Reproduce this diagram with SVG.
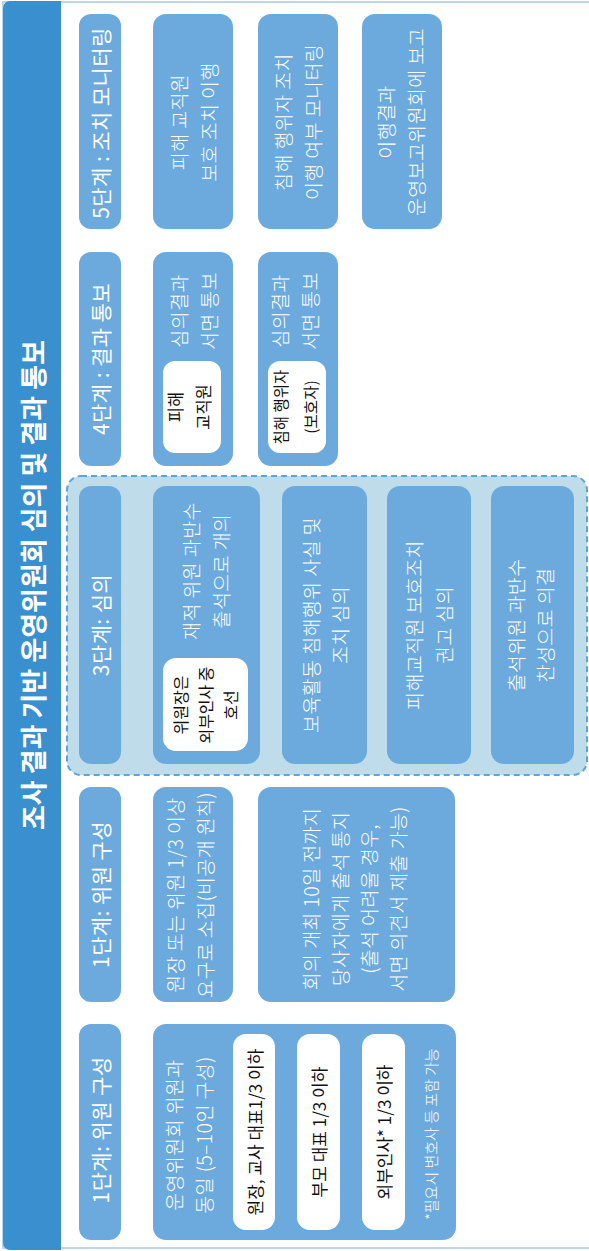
<svg xmlns="http://www.w3.org/2000/svg" width="589" height="1251" viewBox="0 0 589 1251">
<style>
text{font-family:"Noto Sans CJK KR","Noto Sans",sans-serif;text-anchor:middle;dominant-baseline:central}
.box{fill:#6CAADD}
.pill{fill:#FFFFFF}
.hd{fill:#FFFFFF;font-size:21px;font-weight:400;letter-spacing:0.4px}
.bd{fill:#FFFFFF;font-size:19.5px;font-weight:300;letter-spacing:0.4px}
.pt{fill:#111111;font-size:16.5px;font-weight:400}
.fn{fill:#FFFFFF;font-size:15px;font-weight:300}
.title{fill:#FFFFFF;font-size:27px;font-weight:700}
</style>
<rect x="0" y="0" width="589" height="1251" fill="#FFFFFF"/>
<rect x="3" y="2" width="600" height="1246" fill="#FFFFFF" stroke="#B9D6EE" stroke-width="2"/>
<g id="title">
<rect x="3" y="1" width="58" height="1249" rx="7" fill="#3A8FCF"/>
<rect x="40" y="1" width="21" height="1249" fill="#3A8FCF"/>
<text class="title" transform="translate(32,585) rotate(-90)">조사 결과 기반 운영위원회 심의 및 결과 통보</text>
</g>
<g id="connectors"></g>

<!-- stage 5 -->
<g id="h5"><rect class="box" x="79" y="14" width="42" height="215" rx="12"/>
<text class="hd" transform="translate(100,123) rotate(-90)">5단계 : 조치 모니터링</text></g>
<g id="n5a"><rect class="box" x="153" y="14" width="80" height="215" rx="13"/>
<text class="bd" transform="translate(193,122) rotate(-90)"><tspan x="0" y="-15">피해 교직원</tspan><tspan x="0" y="15">보호 조치 이행</tspan></text></g>
<g id="n5b"><rect class="box" x="258" y="14" width="80" height="215" rx="13"/>
<text class="bd" transform="translate(297,122) rotate(-90)"><tspan x="0" y="-15">침해 행위자 조치</tspan><tspan x="0" y="15">이행 여부 모니터링</tspan></text></g>
<g id="n5c"><rect class="box" x="362" y="14" width="80" height="215" rx="13"/>
<text class="bd" transform="translate(400,122) rotate(-90)"><tspan x="0" y="-15">이행결과</tspan><tspan x="0" y="15">운영보고위원회에 보고</tspan></text></g>

<!-- stage 4 -->
<g id="h4"><rect class="box" x="79" y="252" width="42" height="214" rx="12"/>
<text class="hd" transform="translate(100,359) rotate(-90)">4단계 : 결과 통보</text></g>
<g id="n4a"><rect class="box" x="153" y="252" width="80" height="214" rx="13"/>
<text class="bd" transform="translate(193,311) rotate(-90)"><tspan x="0" y="-15">심의결과</tspan><tspan x="0" y="15">서면 통보</tspan></text>
<rect class="pill" x="163" y="361" width="58" height="92" rx="12"/>
<text class="pt" transform="translate(189,407) rotate(-90)"><tspan x="0" y="-14">피해</tspan><tspan x="0" y="14">교직원</tspan></text></g>
<g id="n4b"><rect class="box" x="258" y="252" width="80" height="214" rx="13"/>
<text class="bd" transform="translate(294,311) rotate(-90)"><tspan x="0" y="-15">심의결과</tspan><tspan x="0" y="15">서면 통보</tspan></text>
<rect class="pill" x="268" y="361" width="58" height="92" rx="12"/>
<text class="pt" style="font-size:15.5px" transform="translate(295,407) rotate(-90)"><tspan x="0" y="-15">침해 행위자</tspan><tspan x="0" y="15">(보호자)</tspan></text></g>

<!-- stage 3 -->
<g id="stage3">
<rect x="67" y="476" width="520" height="299" rx="14" fill="#BFDCEA" stroke="#5EA3DA" stroke-width="2" stroke-dasharray="6 4"/>
</g>
<g id="h3"><rect class="box" x="79" y="486" width="42" height="278" rx="12"/>
<text class="hd" transform="translate(100,625) rotate(-90)">3단계: 심의</text></g>
<g id="n3a"><rect class="box" x="153" y="486" width="107" height="278" rx="13"/>
<text class="bd" transform="translate(205,571) rotate(-90)"><tspan x="0" y="-15">재적 위원 과반수</tspan><tspan x="0" y="15">출석으로 개의</tspan></text>
<rect class="pill" x="163" y="658" width="85" height="93" rx="13"/>
<text class="pt" style="font-size:16px" transform="translate(205,705) rotate(-90)"><tspan x="0" y="-25">위원장은</tspan><tspan x="0" y="0">외부인사 중</tspan><tspan x="0" y="25">호선</tspan></text></g>
<g id="n3b"><rect class="box" x="282" y="486" width="85" height="278" rx="13"/>
<text class="bd" transform="translate(324,625) rotate(-90)"><tspan x="0" y="-14.5">보육활동 침해행위 사실 및</tspan><tspan x="0" y="14.5">조치 심의</tspan></text></g>
<g id="n3c"><rect class="box" x="387" y="486" width="84" height="278" rx="13"/>
<text class="bd" transform="translate(428,625) rotate(-90)"><tspan x="0" y="-15">피해교직원 보호조치</tspan><tspan x="0" y="15">권고 심의</tspan></text></g>
<g id="n3d"><rect class="box" x="491" y="486" width="83" height="278" rx="13"/>
<text class="bd" transform="translate(529,625) rotate(-90)"><tspan x="0" y="-14.5">출석위원 과반수</tspan><tspan x="0" y="14.5">찬성으로 의결</tspan></text></g>

<!-- stage 1 (second) -->
<g id="h1b"><rect class="box" x="79" y="787" width="42" height="215" rx="12"/>
<text class="hd" transform="translate(100,894.5) rotate(-90)">1단계: 위원 구성</text></g>
<g id="n1b1"><rect class="box" x="153" y="787" width="80" height="215" rx="13"/>
<text class="bd" transform="translate(189,895) rotate(-90)"><tspan x="0" y="-15">원장 또는 위원 1/3 이상</tspan><tspan x="0" y="15">요구로 소집(비공개 원칙)</tspan></text></g>
<g id="n1b2"><rect class="box" x="258" y="787" width="197" height="215" rx="13"/>
<text class="bd" transform="translate(353.5,899) rotate(-90)"><tspan x="0" y="-43.5">회의 개최 10일 전까지</tspan><tspan x="0" y="-14.5">당사자에게 출석 통지</tspan><tspan x="0" y="14.5">(출석 어려울 경우,</tspan><tspan x="0" y="43.5">서면 의견서 제출 가능)</tspan></text></g>

<!-- stage 1 (first) -->
<g id="h1a"><rect class="box" x="79" y="1024" width="42" height="216" rx="12"/>
<text class="hd" transform="translate(100,1130) rotate(-90)">1단계: 위원 구성</text></g>
<g id="n1a"><rect class="box" x="153" y="1024" width="303" height="216" rx="13"/>
<text class="bd" transform="translate(188,1135) rotate(-90)"><tspan x="0" y="-15">운영위원회 위원과</tspan><tspan x="0" y="15">동일 (5–10인 구성)</tspan></text>
<rect class="pill" x="233" y="1034" width="42" height="196" rx="13"/>
<text class="pt" style="font-size:17px" transform="translate(254,1132) rotate(-90)">원장, 교사 대표1/3 이하</text>
<rect class="pill" x="297" y="1034" width="43" height="196" rx="13"/>
<text class="pt" style="font-size:17px" transform="translate(318.5,1132) rotate(-90)">부모 대표 1/3 이하</text>
<rect class="pill" x="362" y="1034" width="43" height="196" rx="13"/>
<text class="pt" style="font-size:17px" transform="translate(383.5,1132) rotate(-90)">외부인사* 1/3 이하</text>
<text class="fn" transform="translate(430,1134) rotate(-90)">*필요시 변호사 등 포함 가능</text></g>
</svg>
